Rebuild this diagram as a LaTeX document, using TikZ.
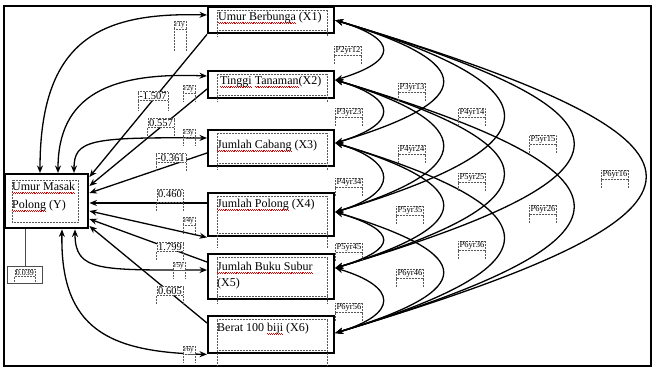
\documentclass[tikz,border=0pt]{standalone}
\usepackage{fontspec}
\setmainfont{Liberation Serif}
\usetikzlibrary{arrows.meta,calc}
\newcommand\rw[1]{{\setbox0\hbox{#1}\rlap{\color{red!85!black}\hbox to\wd0{\xleaders\hbox{\vrule width0.9pt height-1.4pt depth2.1pt\vrule width0.9pt height-2.1pt depth2.8pt}\hfil}}\box0}}
\begin{document}
\begin{tikzpicture}[x=1pt,y=-1pt,
  box/.style={draw, line width=2.4pt, minimum width=126pt, inner sep=0pt, anchor=north west},
  txt/.style={anchor=north west, inner sep=0pt, align=left, font=\fontsize{12}{16}\selectfont},
  dot/.style={densely dotted, gray!70!black, line width=0.5pt},
  tip/.tip={Stealth[length=7.5pt,width=6pt]},
  arr/.style={line width=1.3pt, tip-tip},
  one/.style={line width=1.3pt, -tip},
  lab/.style={fill=white, draw=gray!70!black, densely dotted, line width=0.5pt, inner xsep=1.2pt, inner ysep=0.8pt,
    append after command={(\tikzlastnode.south west) edge[draw, dot] ++(0,#1) (\tikzlastnode.south east) edge[draw, dot] ++(0,#1)}},
  lab/.default=8,
  pf/.style={font=\fontsize{8.5}{9}\selectfont},
  rf/.style={font=\fontsize{7.2}{8}\selectfont},
  nf/.style={font=\fontsize{10.5}{11}\selectfont},
]
\useasboundingbox (0,0) rectangle (654,372);
% frame
\draw[line width=1.9pt] (4,6) rectangle (651,366);
% boxes
\node[box, minimum height=54pt, minimum width=83pt] (y) at (4,173) {};
\node[box, minimum height=26pt] (x1) at (207,6) {};
\node[box, minimum height=27pt] (x2) at (207,70) {};
\node[box, minimum height=36pt] (x3) at (207,129) {};
\node[box, minimum height=43pt] (x4) at (207,192) {};
\node[box, minimum height=45pt] (x5) at (207,253) {};
\node[box, minimum height=37pt] (x6) at (207,315) {};
% inner dotted text frames
\draw[dot] (12,180) rectangle (78,222);
\newcommand\innerdots[2]{%
  \draw[dot] ($(#1.south west)+(10,#2)$) -- ($(#1.north west)+(10,4)$) -- ($(#1.north east)+(-8,4)$) -- ($(#1.south east)+(-8,#2)$);
  \draw[dot] ($(#1.south west)+(10,-4)$) -- ($(#1.south east)+(-8,-4)$);}
\innerdots{x1}{2}
\innerdots{x2}{2}
\innerdots{x3}{2}
\innerdots{x4}{10}
\innerdots{x5}{3}
\innerdots{x6}{11}
% texts
\node[txt, font=\fontsize{12}{18}\selectfont] (ty) at (12,182) {\rw{Umur Masak}\\\rw{Polong} (Y)};
\node[txt] (t1) at (218,12) {\rw{Umur Berbunga} (X1)};
\node[txt] (t2) at (220,76) {\rw{Tinggi}\ \rw{Tanaman}(X2)};
\node[txt] (t3) at (217,140) {\rw{Jumlah Cabang} (X3)};
\node[txt] (t4) at (217,199) {\rw{Jumlah Polong} (X4)};
\node[txt] (t5) at (217,262) {\rw{Jumlah Buku Subur}\\(X5)};
\node[txt] (t6) at (217,323) {Berat 100 \rw{biji} (X6)};
% residual
\node[draw=gray!60!black, line width=0.6pt, minimum width=35pt, minimum height=17pt, anchor=north west] (e0) at (7,266) {};
\draw[line width=0.6pt, gray!60!black] (e0.north) -- (e0.north |- y.south);
% correlations Y - Xi (left)
\draw[arr] ($(y.north west)+(36,0)$) .. controls (40,40) and (100,12) .. ($(x1.north west)+(0,9)$);
\draw[arr] ($(y.north west)+(54,0)$) .. controls (58,95) and (110,72) .. ($(x2.north west)+(0,6)$);
\draw[arr] ($(y.north west)+(70,0)$) .. controls (74,140) and (90,137) .. ($(x3.north west)+(0,9)$);
\draw[arr] ($(y.north east)+(0,38)$) -- (x4.south west);
\draw[arr] ($(y.south west)+(71,0)$) .. controls (75,272) and (100,270) .. ($(x5.north west)+(0,17)$);
\draw[arr] ($(y.south west)+(58,0)$) .. controls (60,330) and (110,352) .. (x6.south west);
% direct paths Xi -> Y
\draw[one] (x1.south west) -- ($(y.north east)+(0,4)$);
\draw[one] ($(x2.north west)+(0,19)$) -- ($(y.north east)+(0,13)$);
\draw[one] ($(x3.north west)+(0,24)$) -- ($(y.north east)+(0,20)$);
\draw[one] ($(x4.north west)+(0,11)$) -- ($(y.north east)+(0,30)$);
\draw[one] ($(x5.north west)+(0,9)$) -- ($(y.north east)+(0,46)$);
\draw[one] ($(x6.north west)+(0,8)$) -- ($(y.north east)+(0,53)$);
% right attach points
\coordinate (a1) at (x1.east);
\coordinate (a2) at ($(x2.north east)+(0,10)$);
\coordinate (a3) at ($(x3.north east)+(0,14)$);
\coordinate (a4) at ($(x4.north east)+(0,20)$);
\coordinate (a5) at ($(x5.north east)+(0,15)$);
\coordinate (a6) at ($(x6.north east)+(0,18)$);
\foreach \i/\j/\d/\k in {1/2/63/19,2/3/63/19,3/4/63/19,4/5/63/19,5/6/63/19,
  1/3/143/43,2/4/143/43,3/5/143/43,4/6/143/43,
  1/4/224/67,2/5/224/67,3/6/224/67,
  1/5/317/95,2/6/317/95,
  1/6/413/124}
  \draw[arr] (a\i) .. controls ($(a\i)+(\d,\k)$) and ($(a\j)+(\d,-\k)$) .. (a\j);
% labels left
\node[lab=22, rf] (l1) at (180,25) {r1y};
\node[lab, rf] (l2) at (189,89) {r2y};
\node[lab, rf] (l3) at (189,133) {r3y};
\node[lab, rf] (l4) at (189,221) {r4y};
\node[lab, rf] (l5) at (179,266) {r5y};
\node[lab, rf] (l6) at (189,350) {r6y};
\node[lab=10, nf] (n1) at (153,96) {-1.507};
\node[lab=8, nf] (n2) at (161,123) {0.557};
\node[lab=8, nf] (n3) at (171,158) {-0.361};
\node[lab=8, nf, text depth=4pt] (n4) at (170,196) {0.460};
\node[lab=8, nf] (n5) at (170,247) {1.799};
\node[lab=8, nf] (n6) at (170,291) {0.605};
\node[lab=6, font=\fontsize{8}{9}\selectfont] (e0t) at (25,273) {0.039};
% labels right
\node[lab, pf] (p12) at (348,51) {P2yr12};
\node[lab, pf] (p13) at (412,88) {P3yr13};
\node[lab, pf] (p14) at (472,113) {P4yr14};
\node[lab, pf] (p15) at (543,140) {P5yr15};
\node[lab, pf] (p16) at (615,175) {P6yr16};
\node[lab, pf] (p23) at (349,113) {P3yr23};
\node[lab, pf] (p24) at (412,150) {P4yr24};
\node[lab, pf] (p25) at (472,178) {P5yr25};
\node[lab, pf] (p26) at (543,210) {P6yr26};
\node[lab, pf] (p34) at (349,183) {P4yr34};
\node[lab, pf] (p35) at (410,211) {P5yr35};
\node[lab, pf] (p36) at (472,246) {P6yr36};
\node[lab, pf] (p45) at (349,248) {P5yr45};
\node[lab, pf] (p46) at (410,274) {P6yr46};
\node[lab, pf] (p56) at (349,308) {P6yr56};
\end{tikzpicture}
\end{document}
